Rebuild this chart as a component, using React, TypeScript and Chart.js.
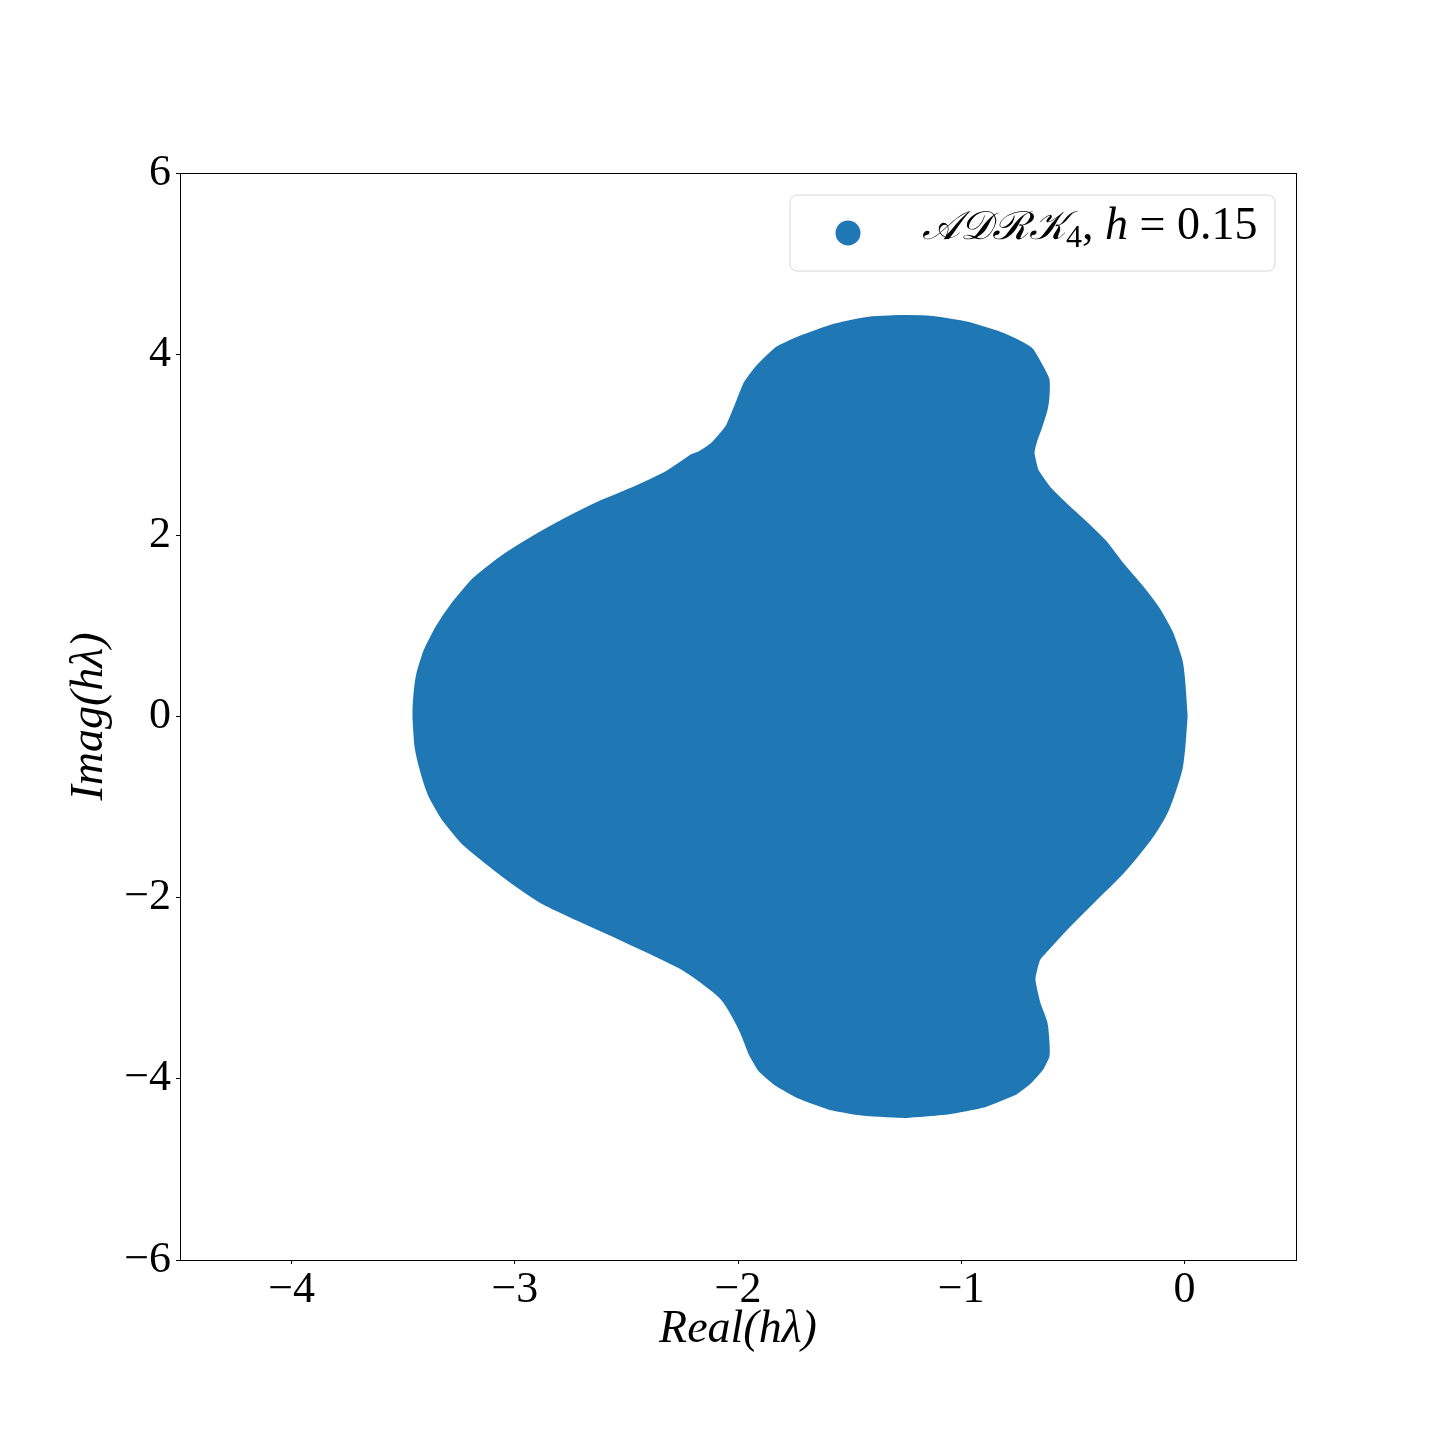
import React, { useEffect, useRef } from "react";
import { Chart, registerables } from "chart.js";

Chart.register(...registerables);

// Boundary of the stability region, upper half (right -> left)
const upperReal = [
  0.01, 0.0, -0.013, -0.054, -0.112, -0.188, -0.278, -0.349, -0.439, -0.515,
  -0.605, -0.658, -0.676, -0.663, -0.641, -0.618, -0.609, -0.609, -0.636, -0.681,
  -0.739, -0.829, -0.976, -1.129, -1.277, -1.424, -1.577, -1.725, -1.828, -1.917,
  -1.971, -2.007, -2.052, -2.114, -2.173, -2.204, -2.32, -2.473, -2.621, -2.768,
  -2.921, -3.068, -3.189, -3.279, -3.35, -3.404, -3.436, -3.449, -3.454,
];
const upperImag = [
  0.0, 0.37, 0.62, 0.92, 1.18, 1.43, 1.69, 1.92, 2.14, 2.31,
  2.53, 2.72, 2.91, 3.05, 3.2, 3.38, 3.53, 3.72, 3.86, 4.05,
  4.14, 4.24, 4.35, 4.41, 4.42, 4.4, 4.32, 4.19, 4.07, 3.86,
  3.68, 3.46, 3.2, 3.02, 2.92, 2.89, 2.7, 2.52, 2.37, 2.19,
  1.98, 1.75, 1.51, 1.25, 0.99, 0.73, 0.48, 0.26, 0.0,
];
// Lower half (left -> right)
const lowerReal = [
  -3.445, -3.418, -3.382, -3.324, -3.234, -3.127, -3.01, -2.876, -2.723, -2.562,
  -2.396, -2.249, -2.128, -2.069, -2.025, -1.984, -1.949, -1.904, -1.828, -1.725,
  -1.577, -1.424, -1.245, -1.053, -0.905, -0.753, -0.694, -0.636, -0.609, -0.609,
  -0.618, -0.65, -0.672, -0.65, -0.596, -0.529, -0.457, -0.367, -0.278, -0.202,
  -0.134, -0.081, -0.045, -0.013, 0.0, 0.01,
];
const lowerImag = [
  -0.33, -0.62, -0.88, -1.13, -1.4, -1.62, -1.84, -2.06, -2.24, -2.42,
  -2.61, -2.79, -3.0, -3.13, -3.3, -3.5, -3.72, -3.91, -4.07, -4.21,
  -4.34, -4.4, -4.42, -4.38, -4.31, -4.16, -4.05, -3.89, -3.75, -3.6,
  -3.38, -3.16, -2.9, -2.68, -2.53, -2.35, -2.17, -1.95, -1.73, -1.51,
  -1.29, -1.07, -0.84, -0.58, -0.33, 0.0,
];

const xTicks = [-4, -3, -2, -1, 0];
const yTicks = [-6, -4, -2, 0, 2, 4, 6];
const xRange = [-4.5, 0.5];
const yRange = [-6, 6];
const seriesLabel = "ADRK4, h = 0.15";
const xTitle = "Real(hλ)";
const yTitle = "Imag(hλ)";

const BLUE = "#1f77b4";
const SERIF = "'Liberation Serif', 'DejaVu Serif', serif";

const fmt = (v: number) => (v < 0 ? "\u2212" + Math.abs(v) : String(v));

const framePlugin = {
  id: "frame",
  afterDraw(chart: any) {
    const { ctx, chartArea: a } = chart;
    ctx.save();
    ctx.strokeStyle = "#000";
    ctx.lineWidth = 1;
    ctx.strokeRect(Math.round(a.left) + 0.5, Math.round(a.top) + 0.5, Math.round(a.right - a.left), Math.round(a.bottom - a.top));
    ctx.restore();
  },
};

const legendPlugin = {
  id: "mplLegend",
  afterDraw(chart: any) {
    const { ctx, chartArea: a } = chart;
    const w = 485;
    const h = 76;
    const x0 = a.right - 21 - w;
    const y0 = a.top + 22;
    ctx.save();
    const r = 7;
    ctx.beginPath();
    ctx.moveTo(x0 + r, y0);
    ctx.lineTo(x0 + w - r, y0);
    ctx.arcTo(x0 + w, y0, x0 + w, y0 + r, r);
    ctx.lineTo(x0 + w, y0 + h - r);
    ctx.arcTo(x0 + w, y0 + h, x0 + w - r, y0 + h, r);
    ctx.lineTo(x0 + r, y0 + h);
    ctx.arcTo(x0, y0 + h, x0, y0 + h - r, r);
    ctx.lineTo(x0, y0 + r);
    ctx.arcTo(x0, y0, x0 + r, y0, r);
    ctx.closePath();
    ctx.fillStyle = "rgba(255,255,255,0.8)";
    ctx.fill();
    ctx.strokeStyle = "#d6d6d6";
    ctx.lineWidth = 1;
    ctx.stroke();
    ctx.beginPath();
    ctx.arc(x0 + 58, y0 + 38, 12.5, 0, Math.PI * 2);
    ctx.fillStyle = BLUE;
    ctx.fill();
    const baseY = y0 + 44;
    let x = x0 + 132;
    ctx.fillStyle = "#000";
    ctx.textBaseline = "alphabetic";
    ctx.textAlign = "left";
    const segs = [
      { t: "\u{1D49C}\u{1D49F}\u211B\u{1D4A6}", font: `italic 40px ${SERIF}`, dy: 0 },
      { t: "4", font: `32px ${SERIF}`, dy: 8 },
      { t: ", ", font: `46px ${SERIF}`, dy: 0 },
      { t: "h", font: `italic 46px ${SERIF}`, dy: 0 },
      { t: " = 0.15", font: `46px ${SERIF}`, dy: 0 },
    ];
    for (const s of segs) {
      ctx.font = s.font;
      ctx.fillText(s.t, x, baseY + s.dy);
      x += ctx.measureText(s.t).width;
    }
    ctx.restore();
  },
};

export default function App() {
  const ref = useRef<HTMLCanvasElement | null>(null);
  useEffect(() => {
    document.body.style.margin = "0";
    const points: { x: number; y: number }[] = [];
    upperReal.forEach((v, i) => points.push({ x: v, y: upperImag[i] }));
    lowerReal.forEach((v, i) => points.push({ x: v, y: lowerImag[i] }));
    const tickFont = { family: SERIF, size: 44 };
    const titleFont = { family: SERIF, size: 46, style: "italic" as const };
    const chart = new Chart(ref.current as HTMLCanvasElement, {
      type: "scatter",
      data: {
        datasets: [
          {
            label: seriesLabel,
            data: points,
            showLine: true,
            fill: "shape",
            tension: 0.15,
            backgroundColor: BLUE,
            borderColor: BLUE,
            borderWidth: 2,
            pointRadius: 0,
          } as any,
        ],
      },
      options: {
        animation: false,
        responsive: false,
        devicePixelRatio: 1,
        layout: { padding: { top: 173, right: 144, left: 0, bottom: 0 } },
        plugins: { legend: { display: false }, tooltip: { enabled: false } },
        scales: {
          x: {
            type: "linear",
            min: xRange[0],
            max: xRange[1],
            afterBuildTicks: (s: any) => {
              s.ticks = xTicks.map((v) => ({ value: v }));
            },
            afterFit: (s: any) => {
              s.height = 180;
            },
            grid: { drawOnChartArea: false, drawTicks: true, tickLength: 4, color: "#000" },
            border: { display: true, color: "#000", width: 1 },
            ticks: { font: tickFont, color: "#000", padding: 0, autoSkip: false, maxRotation: 0, callback: (v: any) => fmt(Number(v)) },
            title: { display: true, text: xTitle, font: titleFont, color: "#000", padding: { top: 0, bottom: 82 } },
          },
          y: {
            type: "linear",
            min: yRange[0],
            max: yRange[1],
            afterBuildTicks: (s: any) => {
              s.ticks = yTicks.map((v) => ({ value: v }));
            },
            afterFit: (s: any) => {
              s.width = 180;
            },
            grid: { drawOnChartArea: false, drawTicks: true, tickLength: 4, color: "#000" },
            border: { display: true, color: "#000", width: 1 },
            ticks: { font: tickFont, color: "#000", padding: 5, autoSkip: false, callback: (v: any) => fmt(Number(v)) },
            title: { display: true, text: yTitle, font: titleFont, color: "#000", padding: { top: 62, bottom: 0 } },
          },
        },
      },
      plugins: [framePlugin, legendPlugin],
    });
    return () => chart.destroy();
  }, []);
  return (
    <div style={{ position: "absolute", left: 0, top: 0, width: 1440, height: 1440, background: "#fff" }}>
      <canvas ref={ref} width={1440} height={1440} />
    </div>
  );
}
